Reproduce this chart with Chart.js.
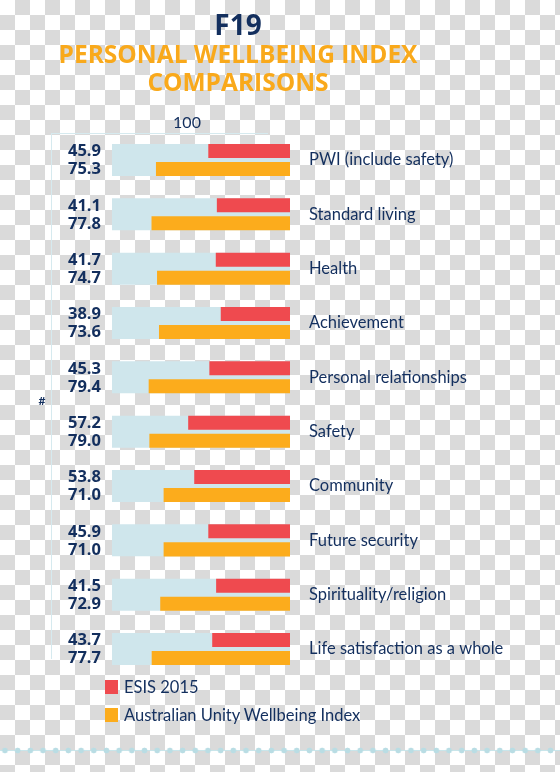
<!DOCTYPE html>
<html>
<head>
<meta charset="utf-8">
<script src="https://cdn.jsdelivr.net/npm/chart.js@4.4.1/dist/chart.umd.min.js"></script>
<style>
    html, body {
        margin: 0;
        padding: 0;
    }
    body {
        width: 560px;
        height: 772px;
        position: relative;
        overflow: hidden;
        background: repeating-conic-gradient(#dadada 0 25%, #ffffff 0 50%) 0 0 / 30px 30px;
        font-family: Lato, "Open Sans", sans-serif;
        color: #132f5e;
    }
    #chart {
        position: absolute;
        left: 0;
        top: 0;
    }
    .title {
        position: absolute;
        left: 0;
        width: 476px;
        text-align: center;
        font-family: "Open Sans", sans-serif;
        font-weight: 700;
        white-space: nowrap;
    }
    #t1 { top: 10px; font-size: 28px; line-height: 28px; color: #132f5e; }
    #t2 { top: 42px; font-size: 24.5px; line-height: 24px; color: #f9a91b; }
    #t3 { top: 70px; font-size: 24.5px; line-height: 24px; color: #f9a91b; }
    #maxLabel {
        position: absolute;
        left: 160px;
        width: 54px;
        top: 114px;
        text-align: center;
        font-size: 16px;
        line-height: 16px;
    }
    #hash {
        position: absolute;
        left: 36px;
        width: 12px;
        top: 395px;
        text-align: center;
        font-weight: 700;
        font-size: 12px;
        line-height: 12px;
    }
    #bracket {
        position: absolute;
        left: 51px;
        top: 133px;
        width: 216px;
        height: 525px;
        border-left: 1px solid #d6eaef;
        border-top: 1px solid #d6eaef;
    }
    #legend {
        position: absolute;
        left: 105px;
        top: 680px;
    }
    .legend-item {
        display: flex;
        align-items: center;
        height: 14px;
        margin-bottom: 14px;
        font-size: 16.5px;
        white-space: nowrap;
    }
    .legend-item span {
        display: inline-block;
        width: 13px;
        height: 14px;
        margin-right: 6px;
    }
    #wave {
        position: absolute;
        left: 0;
        top: 746px;
        width: 560px;
        height: 9px;
        background:
            radial-gradient(circle, #b9dde4 0 2.6px, transparent 3.2px) -1.4px 0 / 12.7px 9px repeat-x,
            linear-gradient(#c9e5ea, #c9e5ea) 0 4px / 560px 1px no-repeat;
    }
</style>
</head>
<body>
<div id="bracket"></div>
<canvas id="chart" width="560" height="772"></canvas>
<div class="title" id="t1">F19</div>
<div class="title" id="t2">PERSONAL WELLBEING INDEX</div>
<div class="title" id="t3">COMPARISONS</div>
<div id="maxLabel">100</div>
<div id="hash">#</div>
<div id="legend"></div>
<div id="wave"></div>

<script>
// Donnees
var categories = [
    'PWI (include safety)',
    'Standard living',
    'Health',
    'Achievement',
    'Personal relationships',
    'Safety',
    'Community',
    'Future security',
    'Spirituality/religion',
    'Life satisfaction as a whole'
];
var esisValues = [45.9, 41.1, 41.7, 38.9, 45.3, 57.2, 53.8, 45.9, 41.5, 43.7];
var unityValues = [75.3, 77.8, 74.7, 73.6, 79.4, 79.0, 71.0, 71.0, 72.9, 77.7];
var seriesNames = ['ESIS 2015', 'Australian Unity Wellbeing Index'];
var scaleMax = 100;

var navy = '#132f5e';
var red = '#ef4a4f';
var orange = '#fcac1c';
var track = '#cfe6ec';

// valeurs a gauche des barres
const valueLabels = {
    id: 'valueLabels',
    afterDatasetsDraw(chart) {
        const ctx = chart.ctx;
        ctx.save();
        ctx.font = '700 16.5px "Open Sans", sans-serif';
        ctx.fillStyle = navy;
        ctx.textAlign = 'right';
        ctx.textBaseline = 'middle';
        [1, 2].forEach(di => {
            const meta = chart.getDatasetMeta(di);
            const data = chart.data.datasets[di].data;
            meta.data.forEach((bar, i) => {
                ctx.fillText(data[i].toFixed(1), 101, bar.y + 0.5);
            });
        });
        ctx.restore();
    }
};

const ctx = document.getElementById('chart').getContext('2d');
const wellbeingChart = new Chart(ctx, {
    type: 'bar',
    data: {
        labels: categories,
        datasets: [{
            label: 'track',
            data: categories.map(() => scaleMax),
            backgroundColor: track,
            grouped: false,
            categoryPercentage: 1,
            barPercentage: 0.589,
            order: 2
        },
        {
            label: seriesNames[0],
            data: esisValues,
            backgroundColor: red,
            order: 1
        },
        {
            label: seriesNames[1],
            data: unityValues,
            backgroundColor: orange,
            order: 1
        }]
    },
    options: {
        indexAxis: 'y',
        responsive: false,
        animation: false,
        categoryPercentage: 0.663,
        barPercentage: 0.778,
        layout: {
            padding: { left: 112, right: 0, top: 132.85, bottom: 95.8 }
        },
        plugins: {
            legend: { display: false },
            tooltip: { enabled: false }
        },
        scales: {
            x: {
                display: false,
                reverse: true,
                min: 0,
                max: scaleMax
            },
            y: {
                position: 'right',
                grid: { display: false, drawTicks: false },
                border: { display: false },
                ticks: {
                    padding: 19,
                    color: navy,
                    font: { family: 'Lato', size: 16.5 }
                },
                afterFit: function(scale) {
                    scale.width = 270;
                }
            }
        }
    },
    plugins: [valueLabels]
});

// legende HTML
var legendBox = document.getElementById('legend');
[red, orange].forEach(function(color, i) {
    var item = document.createElement('div');
    item.className = 'legend-item';
    var sw = document.createElement('span');
    sw.style.background = color;
    item.appendChild(sw);
    item.appendChild(document.createTextNode(seriesNames[i]));
    legendBox.appendChild(item);
});
</script>
</body>
</html>
